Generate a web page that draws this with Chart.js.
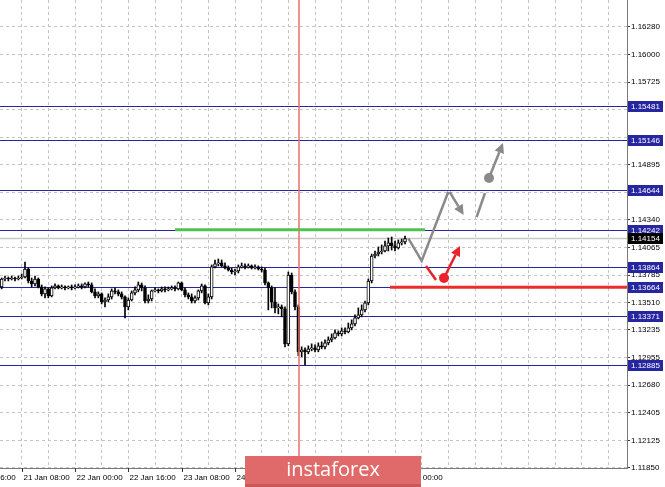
<!DOCTYPE html>
<html>
<head>
<meta charset="utf-8">
<script src="https://cdn.jsdelivr.net/npm/chart.js@4"></script>
<style>
html, body { margin: 0; padding: 0; background: #fff; }
#wrap { width: 665px; height: 487px; }
</style>
</head>
<body>
<div id="wrap"><canvas id="chart" width="665" height="487"></canvas></div>
<script>
// H1 candles, bar index 0 = 21 Jan 08:00
var firstBar = -6;
var firstOpen = 1.13667;
var closes = [
  1.13747,1.13757,1.13747,1.13757,1.13747,1.13757,1.13767,1.13847,1.13727,1.13697,
  1.13747,1.13667,1.13597,1.13647,1.13577,1.13657,1.13677,1.13657,1.13667,1.13657,
  1.13667,1.13657,1.13667,1.13677,1.13667,1.13697,1.13687,1.13617,1.13577,1.13597,
  1.13516,1.13536,1.13567,1.13627,1.13617,1.13597,1.13567,1.13466,1.13536,1.13607,
  1.13637,1.13687,1.13657,1.13526,1.13546,1.13627,1.13637,1.13627,1.13647,1.13637,
  1.13647,1.13657,1.13647,1.13707,1.13637,1.13587,1.13567,1.13526,1.13557,1.13627,
  1.13677,1.13506,1.13567,1.13868,1.13898,1.13908,1.13878,1.13857,1.13837,1.13817,
  1.13827,1.13868,1.13878,1.13868,1.13878,1.13857,1.13868,1.13847,1.13837,1.13707,
  1.13657,1.13516,1.13456,1.13466,1.13446,1.13095,1.13787,1.13617,1.13466,1.13015,
  1.13035,1.13015,1.13045,1.13055,1.13035,1.13075,1.13065,1.13105,1.13135,1.13155,
  1.13205,1.13195,1.13225,1.13215,1.13255,1.13295,1.13356,1.13386,1.13436,1.13506,
  1.13727,1.13978,1.13998,1.14018,1.14028,1.14079,1.14109,1.14079,1.14059,1.14109,
  1.14119,1.14154
];
var highs = [
  1.13757,1.13777,1.13767,1.13777,1.13767,1.13777,1.13797,1.13918,1.13857,1.13757,
  1.13777,1.13757,1.13687,1.13667,1.13657,1.13677,1.13697,1.13687,1.13687,1.13677,
  1.13677,1.13687,1.13687,1.13697,1.13697,1.13707,1.13717,1.13707,1.13647,1.13617,
  1.13607,1.13557,1.13597,1.13647,1.13657,1.13637,1.13617,1.13577,1.13557,1.13627,
  1.13667,1.13717,1.13707,1.13677,1.13587,1.13637,1.13657,1.13647,1.13667,1.13667,
  1.13667,1.13677,1.13677,1.13717,1.13717,1.13657,1.13607,1.13597,1.13577,1.13637,
  1.13697,1.13687,1.13597,1.13888,1.13938,1.13948,1.13938,1.13908,1.13878,1.13857,
  1.13847,1.13888,1.13908,1.13898,1.13898,1.13888,1.13888,1.13878,1.13868,1.13857,
  1.13717,1.13677,1.13657,1.13496,1.13486,1.13466,1.13817,1.13807,1.13637,1.13486,
  1.13065,1.13055,1.13075,1.13095,1.13085,1.13105,1.13115,1.13135,1.13165,1.13195,
  1.13235,1.13225,1.13255,1.13255,1.13305,1.13336,1.13386,1.13456,1.13486,1.13526,
  1.13747,1.13998,1.14028,1.14069,1.14089,1.14129,1.14159,1.14169,1.14129,1.14139,
  1.14149,1.14179
];
var lows = [
  1.13647,1.13727,1.13727,1.13737,1.13727,1.13737,1.13747,1.13757,1.13707,1.13667,
  1.13677,1.13657,1.13577,1.13557,1.13557,1.13567,1.13647,1.13647,1.13647,1.13637,
  1.13647,1.13637,1.13647,1.13657,1.13647,1.13657,1.13667,1.13607,1.13557,1.13557,
  1.13496,1.13466,1.13516,1.13546,1.13597,1.13577,1.13546,1.13356,1.13436,1.13526,
  1.13587,1.13617,1.13627,1.13506,1.13506,1.13526,1.13617,1.13607,1.13617,1.13617,
  1.13627,1.13637,1.13627,1.13637,1.13627,1.13567,1.13546,1.13506,1.13506,1.13536,
  1.13607,1.13496,1.13486,1.13546,1.13857,1.13878,1.13868,1.13847,1.13827,1.13797,
  1.13787,1.13807,1.13857,1.13847,1.13857,1.13847,1.13847,1.13837,1.13817,1.13687,
  1.13436,1.13456,1.13406,1.13396,1.13366,1.13065,1.13075,1.13597,1.13436,1.12975,
  1.12965,1.12884,1.12995,1.13025,1.13015,1.13015,1.13045,1.13045,1.13085,1.13115,
  1.13145,1.13175,1.13175,1.13195,1.13205,1.13235,1.13275,1.13346,1.13366,1.13416,
  1.13486,1.13707,1.13958,1.13978,1.13998,1.14018,1.14028,1.14038,1.14028,1.14048,
  1.14089,1.14099
];

var timeLabels = ["20 Jan 16:00", "21 Jan 08:00", "22 Jan 00:00", "22 Jan 16:00", "23 Jan 08:00",
                  "24 Jan 00:00", "24 Jan 16:00", "27 Jan 08:00", "28 Jan 00:00"];
var timeLabelBars = [-16, 0, 16, 32, 48, 64, 80, 96, 112];
var priceTicks = [1.16280, 1.16000, 1.15725, 1.15450, 1.15170, 1.14895, 1.14620, 1.14340, 1.14065,
                  1.13785, 1.13510, 1.13235, 1.12955, 1.12680, 1.12405, 1.12125, 1.11850];
var levels = [1.15481, 1.15146, 1.14644, 1.14242, 1.13864, 1.13664, 1.13371, 1.12885];
var bidPrice = 1.14154;
var greenLine = {from: 46, to: 121, price: 1.14242};
var redLine = {from: 110.5, price: 1.13664};
var markerBar = 83.2;

// forecast drawing (bar, price)
var grayPath = [[116, 1.14154], [120, 1.13928], [128, 1.14624]];
var grayArrow1 = [[128.4, 1.14621], [132.6, 1.14390]];
var graySeg = [[136.5, 1.14370], [139.0, 1.14611]];
var grayDot = [140.2, 1.14762];
var grayArrow2 = [[140.2, 1.14762], [144.4, 1.15114]];
var redSeg = [[121.3, 1.13878], [124.3, 1.13737]];
var redDot = [126.7, 1.13757];
var redArrow = [[126.7, 1.13757], [131.5, 1.14079]];

var NAVY = '#2626a0';
var FONT = '8px "Liberation Sans", Arial, sans-serif';

var opens = closes.map(function (c, i) { return i === 0 ? firstOpen : closes[i - 1]; });
var bodies = closes.map(function (c, i) {
    return {x: firstBar + i, y: [Math.min(opens[i], c), Math.max(opens[i], c)]};
});
var wicks = closes.map(function (c, i) {
    return {x: firstBar + i, y: [Math.min(lows[i], opens[i], c), Math.max(highs[i], opens[i], c)]};
});

function arrow(ctx, x1, y1, x2, y2, color) {
    var ang = Math.atan2(y2 - y1, x2 - x1), len = 10, hw = 5;
    var bx = x2 - Math.cos(ang) * len, by = y2 - Math.sin(ang) * len;
    ctx.strokeStyle = color; ctx.fillStyle = color; ctx.lineWidth = 2.5;
    ctx.beginPath(); ctx.moveTo(x1, y1); ctx.lineTo(bx, by); ctx.stroke();
    ctx.beginPath();
    ctx.moveTo(x2, y2);
    ctx.lineTo(bx + Math.sin(ang) * hw, by - Math.cos(ang) * hw);
    ctx.lineTo(bx - Math.sin(ang) * hw, by + Math.cos(ang) * hw);
    ctx.closePath(); ctx.fill();
}

var overlay = {
    id: 'overlay',
    beforeDatasetsDraw: function (chart) {
        var ctx = chart.ctx, ys = chart.scales.y, a = chart.chartArea;
        ctx.save();
        // bid line
        ctx.strokeStyle = '#c8c8c8'; ctx.lineWidth = 1.5;
        var yb = ys.getPixelForValue(bidPrice);
        ctx.beginPath(); ctx.moveTo(a.left, yb); ctx.lineTo(a.right, yb); ctx.stroke();
        // levels
        ctx.strokeStyle = NAVY; ctx.lineWidth = 1;
        levels.forEach(function (p) {
            var y = Math.round(ys.getPixelForValue(p)) + 0.5;
            ctx.beginPath(); ctx.moveTo(a.left, y); ctx.lineTo(a.right, y); ctx.stroke();
        });
        ctx.restore();
    },
    afterDatasetsDraw: function (chart) {
        var ctx = chart.ctx, xs = chart.scales.x, ys = chart.scales.y, a = chart.chartArea;
        var X = function (v) { return xs.getPixelForValue(v); };
        var Y = function (v) { return ys.getPixelForValue(v); };
        ctx.save();
        // vertical marker
        ctx.strokeStyle = '#f26b6b'; ctx.lineWidth = 1.5;
        ctx.beginPath(); ctx.moveTo(X(markerBar), a.top); ctx.lineTo(X(markerBar), a.bottom); ctx.stroke();

        // green and red levels
        ctx.lineWidth = 3;
        ctx.strokeStyle = '#4fc34f';
        ctx.beginPath(); ctx.moveTo(X(greenLine.from), Y(greenLine.price)); ctx.lineTo(X(greenLine.to), Y(greenLine.price)); ctx.stroke();
        ctx.strokeStyle = '#ee2a2a';
        ctx.beginPath(); ctx.moveTo(X(redLine.from), Y(redLine.price)); ctx.lineTo(a.right, Y(redLine.price)); ctx.stroke();

        // gray forecast
        var g = '#8a8a8a';
        ctx.strokeStyle = g; ctx.lineWidth = 2.5; ctx.lineJoin = 'miter';
        ctx.beginPath();
        grayPath.forEach(function (p, i) { if (i) ctx.lineTo(X(p[0]), Y(p[1])); else ctx.moveTo(X(p[0]), Y(p[1])); });
        ctx.stroke();
        arrow(ctx, X(grayArrow1[0][0]), Y(grayArrow1[0][1]), X(grayArrow1[1][0]), Y(grayArrow1[1][1]), g);
        ctx.beginPath(); ctx.moveTo(X(graySeg[0][0]), Y(graySeg[0][1])); ctx.lineTo(X(graySeg[1][0]), Y(graySeg[1][1])); ctx.stroke();
        arrow(ctx, X(grayArrow2[0][0]), Y(grayArrow2[0][1]), X(grayArrow2[1][0]), Y(grayArrow2[1][1]), g);
        ctx.fillStyle = g;
        ctx.beginPath(); ctx.arc(X(grayDot[0]), Y(grayDot[1]), 5, 0, Math.PI * 2); ctx.fill();

        // red forecast
        var r = '#e8232b';
        ctx.strokeStyle = r; ctx.lineWidth = 2.5;
        ctx.beginPath(); ctx.moveTo(X(redSeg[0][0]), Y(redSeg[0][1])); ctx.lineTo(X(redSeg[1][0]), Y(redSeg[1][1])); ctx.stroke();
        arrow(ctx, X(redArrow[0][0]), Y(redArrow[0][1]), X(redArrow[1][0]), Y(redArrow[1][1]), r);
        ctx.fillStyle = r;
        ctx.beginPath(); ctx.arc(X(redDot[0]), Y(redDot[1]), 5, 0, Math.PI * 2); ctx.fill();
        ctx.restore();
    },
    afterDraw: function (chart) {
        var ctx = chart.ctx, xs = chart.scales.x, ys = chart.scales.y, a = chart.chartArea;
        ctx.save();
        // time labels
        ctx.font = FONT; ctx.fillStyle = '#000'; ctx.textBaseline = 'middle'; ctx.textAlign = 'left';
        ctx.strokeStyle = '#333'; ctx.lineWidth = 1;
        timeLabelBars.forEach(function (b, i) {
            var x = Math.round(xs.getPixelForValue(b)) + 0.5;
            ctx.beginPath(); ctx.moveTo(x, a.bottom); ctx.lineTo(x, a.bottom + 4); ctx.stroke();
            ctx.fillText(timeLabels[i], x + 1, a.bottom + 10);
        });
        // price boxes
        var box = function (p, color) {
            var y = ys.getPixelForValue(p);
            ctx.fillStyle = color;
            ctx.fillRect(a.right + 1, Math.round(y) - 5, 35, 11);
            ctx.fillStyle = '#fff';
            ctx.fillText(p.toFixed(5), a.right + 4, Math.round(y) + 0.5);
        };
        levels.forEach(function (p) { box(p, NAVY); });
        box(bidPrice, '#000');

        // watermark banner
        ctx.fillStyle = '#e06a6a';
        ctx.fillRect(245, 456, 176, 31);
        ctx.fillStyle = '#c95858';
        ctx.fillRect(245, 484, 176, 3);
        ctx.fillStyle = '#fff';
        ctx.font = '20px "Open Sans", "DejaVu Sans", sans-serif';
        ctx.textAlign = 'center';
        ctx.fillText('instaforex', 333, 470);
        ctx.restore();
    }
};

new Chart(document.getElementById('chart'), {
    type: 'bar',
    data: {
        datasets: [
            {
                data: wicks, barThickness: 1, backgroundColor: '#000', borderWidth: 0,
                grouped: false, order: 2
            },
            {
                data: bodies, barThickness: 3, minBarLength: 1, grouped: false, order: 1,
                borderWidth: 1, borderColor: '#000', borderSkipped: false,
                backgroundColor: function (c) {
                    var i = c.dataIndex;
                    return closes[i] >= opens[i] ? '#fff' : '#000';
                }
            }
        ]
    },
    options: {
        responsive: false,
        animation: false,
        layout: {padding: 0},
        plugins: {legend: {display: false}, tooltip: {enabled: false}},
        scales: {
            x: {
                type: 'linear', min: -6.5, max: 181.6, offset: false,
                afterBuildTicks: function (s) {
                    var t = [];
                    for (var b = 0; b <= 176; b += 8) t.push({value: b});
                    s.ticks = t;
                },
                afterFit: function (s) { s.height = 19; s.paddingLeft = 0; s.paddingRight = 0; },
                ticks: {display: false},
                grid: {color: '#c4c4c4', drawTicks: false, offset: false},
                border: {color: '#7a7a7a', width: 1, dash: [3, 3]}
            },
            y: {
                type: 'linear', position: 'right', min: 1.11847, max: 1.16551, bounds: 'data',
                afterBuildTicks: function (s) {
                    s.ticks = priceTicks.map(function (v) { return {value: v}; });
                },
                afterFit: function (s) { s.width = 38; s.paddingTop = 0; s.paddingBottom = 0; },
                ticks: {
                    autoSkip: false, padding: 1, color: '#000',
                    font: {family: '"Liberation Sans", Arial, sans-serif', size: 8},
                    callback: function (v) { return Number(v).toFixed(5); }
                },
                grid: {color: '#c4c4c4', tickColor: '#333', tickLength: 3, tickBorderDash: []},
                border: {color: '#7a7a7a', width: 1, dash: [3, 3]}
            }
        }
    },
    plugins: [overlay]
});
</script>
</body>
</html>
